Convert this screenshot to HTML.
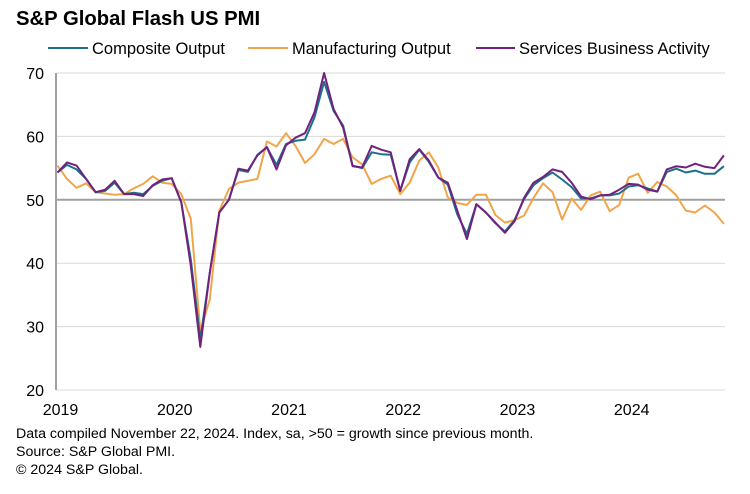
<!DOCTYPE html>
<html><head><meta charset="utf-8"><style>
body{margin:0;background:#fff;font-family:"Liberation Sans",sans-serif;}
#wrap{position:relative;width:750px;height:494px;overflow:hidden;}
</style></head><body>
<div id="wrap">
<svg id="chart" width="750" height="494" xmlns="http://www.w3.org/2000/svg" font-family="Liberation Sans, sans-serif">
<text x="16" y="25" font-size="20.3" font-weight="bold" fill="#000">S&amp;P Global Flash US PMI</text>
<g>
<g><line x1="48" y1="48" x2="88" y2="48" stroke="#1a7189" stroke-width="2"/><text x="92" y="54" font-size="16.5">Composite Output</text></g>
<g><line x1="248" y1="48" x2="288" y2="48" stroke="#f0a54a" stroke-width="2"/><text x="292" y="54" font-size="16.5">Manufacturing Output</text></g>
<g><line x1="476" y1="48" x2="515" y2="48" stroke="#72217d" stroke-width="2"/><text x="519" y="54" font-size="16.5">Services Business Activity</text></g>
</g>
<g id="grid"></g><g id="series"></g><g id="axes"></g>
<g font-size="14.2" fill="#000">
<text x="16" y="438">Data compiled November 22, 2024. Index, sa, &gt;50 = growth since previous month.</text>
<text x="16" y="456">Source: S&amp;P Global PMI.</text>
<text x="16" y="474">© 2024 S&amp;P Global.</text>
</g>
</svg>
</div>
<script>
const yTicks = [20,30,40,50,60,70];
const years = ["2019","2020","2021","2022","2023","2024"];
const composite = [54.3,55.5,54.8,53.3,51.2,51.4,52.7,50.9,51.1,50.9,52.2,53.0,
53.4,49.6,40.6,28.0,38.5,48.0,50.0,54.7,54.4,57.1,58.3,55.5,
58.8,59.3,59.5,63.0,68.6,64.0,61.7,55.4,55.0,57.5,57.2,57.1,
51.4,55.9,57.9,56.0,53.5,52.4,47.7,44.6,49.3,48.0,46.3,45.0,
46.8,50.1,52.3,53.4,54.3,53.2,52.0,50.2,50.2,50.7,50.7,51.0,
52.1,52.3,51.8,51.3,54.4,54.9,54.3,54.6,54.1,54.1,55.3];
const manufacturing = [55.4,53.3,51.9,52.6,51.2,51.0,50.8,50.9,51.8,52.5,53.7,52.7,
52.5,50.9,47.0,29.3,34.3,48.3,51.7,52.7,53.0,53.3,59.2,58.4,
60.5,58.5,55.8,57.2,59.6,58.8,59.6,56.7,55.6,52.5,53.3,53.8,
50.9,52.7,56.2,57.5,55.1,50.4,49.5,49.2,50.8,50.8,47.6,46.4,
46.8,47.5,50.3,52.6,51.2,46.9,50.2,48.4,50.7,51.3,48.2,49.2,
53.5,54.1,51.1,52.8,52.1,50.7,48.3,48.0,49.1,48.0,46.2];
const services = [54.3,55.9,55.4,53.3,51.2,51.6,53.0,50.9,50.9,50.6,52.3,53.2,
53.4,49.6,39.6,26.8,38.5,48.0,50.0,54.9,54.6,57.0,58.3,54.8,
58.6,59.8,60.5,63.8,70.0,64.3,61.4,55.3,55.1,58.5,57.9,57.5,
51.4,56.4,58.0,56.2,53.5,52.7,48.3,43.8,49.3,48.0,46.4,44.8,
46.6,50.3,52.7,53.6,54.8,54.4,52.7,50.5,50.1,50.7,50.8,51.6,
52.5,52.4,51.6,51.3,54.8,55.3,55.1,55.7,55.2,55.0,57.0];
const NS="http://www.w3.org/2000/svg";
const X0=57.5,STEP=9.52,YTOP=73,YBOT=390,VMIN=20,VMAX=70;
function xs(i){return X0+i*STEP;}
function ys(v){return YBOT-(v-VMIN)/(VMAX-VMIN)*(YBOT-YTOP);}
const grid=document.getElementById('grid'),axes=document.getElementById('axes'),ser=document.getElementById('series');
yTicks.forEach(t=>{
  const l=document.createElementNS(NS,'line');
  
  
  l.setAttribute('x1',56);l.setAttribute('x2',725);
  l.setAttribute('y1',ys(t));l.setAttribute('y2',ys(t));
  l.setAttribute('stroke',t===50?'#a0a0a0':'#d9d9d9');
  l.setAttribute('stroke-width',t===50?2:1);
  grid.appendChild(l);
  const tx=document.createElementNS(NS,'text');
  
  
  tx.setAttribute('x',44);tx.setAttribute('y',ys(t)+6);
  tx.setAttribute('text-anchor','end');tx.setAttribute('font-size','16');
  tx.textContent=t;axes.appendChild(tx);
});
const ya=document.createElementNS(NS,'line');


ya.setAttribute('x1',56);ya.setAttribute('x2',56);ya.setAttribute('y1',YTOP);ya.setAttribute('y2',YBOT);
ya.setAttribute('stroke','#a0a0a0');ya.setAttribute('stroke-width',2);
axes.appendChild(ya);
years.forEach((y,i)=>{
  const tx=document.createElementNS(NS,'text');
  
  
  tx.setAttribute('x',xs(i*12)+3);tx.setAttribute('y',415);
  tx.setAttribute('text-anchor','middle');tx.setAttribute('font-size','16');
  tx.textContent=y;axes.appendChild(tx);
});
function drawLine(arr,color,name){
  const p=document.createElementNS(NS,'polyline');
  
  
  p.setAttribute('points',arr.map((v,i)=>xs(i).toFixed(1)+','+ys(v).toFixed(1)).join(' '));
  p.setAttribute('fill','none');p.setAttribute('stroke',color);p.setAttribute('stroke-width',2);
  p.setAttribute('stroke-linejoin','round');
  ser.appendChild(p);
}
drawLine(manufacturing,'#f0a54a','manufacturing-line');
drawLine(composite,'#1a7189','composite-line');
drawLine(services,'#72217d','services-line');
</script>
</body></html>
